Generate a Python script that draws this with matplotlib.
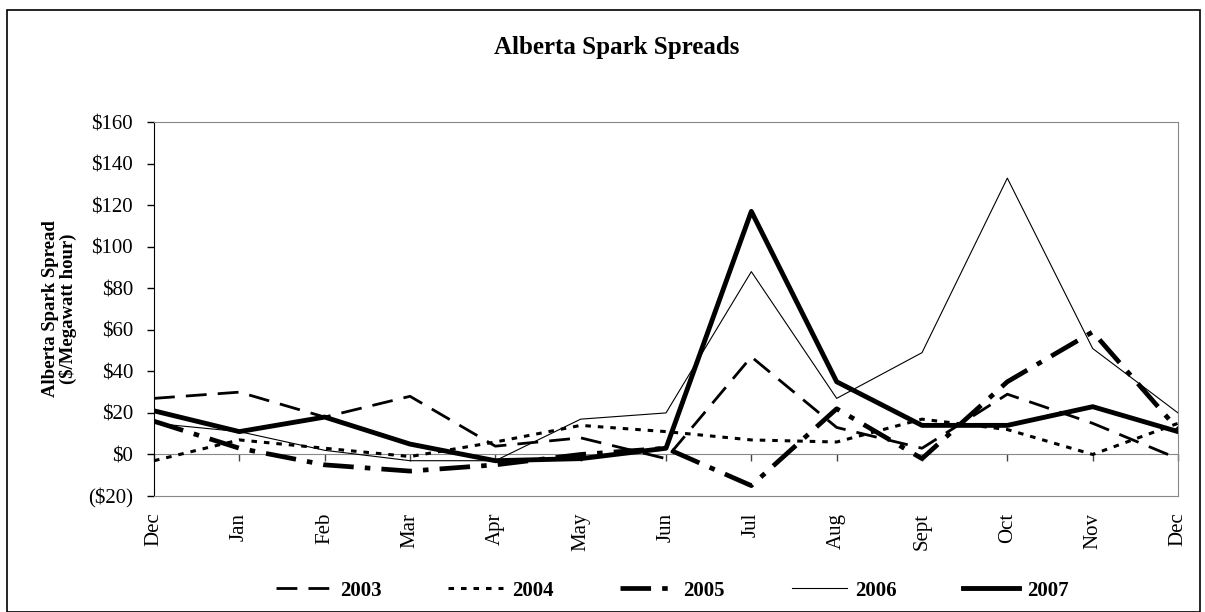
import numpy as np
import matplotlib
matplotlib.use('Agg')
import matplotlib.pyplot as plt
from matplotlib.patches import Rectangle

plt.rcParams['font.family'] = ['Liberation Serif', 'DejaVu Serif']
plt.rcParams['lines.scale_dashes'] = False

months = ['Dec', 'Jan', 'Feb', 'Mar', 'Apr', 'May', 'Jun',
          'Jul', 'Aug', 'Sept', 'Oct', 'Nov', 'Dec']

s2003 = [27, 30, 18, 28, 4, 8, -2, 47, 13, 3, 29, 15, -2]
s2004 = [-3, 7, 3, -1, 6, 14, 11, 7, 6, 17, 12, 0, 15]
s2005 = [16, 3, -5, -8, -5, 0, 3, -15, 22, -2, 35, 59, 12]
s2006 = [15, 11, 2, -3, -3, 17, 20, 88, 27, 49, 133, 51, 20]
s2007 = [21, 11, 18, 5, -3, -2, 3, 117, 35, 14, 14, 23, 11]

fig = plt.figure(figsize=(12.05, 6.12), dpi=100)
ax = fig.add_axes([0.1278, 0.1895, 0.8498, 0.6111])

x = np.arange(len(months))
ax.plot(x, s2003, color='black', lw=2.0, dashes=(15, 8), label='2003')
ax.plot(x, s2004, color='black', lw=2.2, dashes=(4, 5), label='2004')
ax.plot(x, s2005, color='black', lw=3.4, dashes=(22, 8, 4, 8), label='2005')
ax.plot(x, s2006, color='black', lw=0.8, label='2006')
ax.plot(x, s2007, color='black', lw=3.5, label='2007')

ax.set_xlim(0, 12)
ax.set_ylim(-20, 160)
ax.set_yticks(np.arange(-20, 161, 20))
ax.yaxis.set_major_formatter(lambda v, p: f'(${-v:.0f})' if v < 0 else f'${v:.0f}')
ax.tick_params(axis='y', direction='out', length=5, width=1, labelsize=15, pad=10)

ax.set_xticks(x)
ax.set_xticklabels(months, rotation=90, fontsize=15, va='top')
ax.tick_params(axis='x', length=0, pad=12)

for side in ['top', 'right', 'bottom']:
    ax.spines[side].set_color('#888888')
ax.spines['left'].set_color('black')

# zero line with its own tick marks
zero = ax.secondary_xaxis(20 / 180)
zero.set_xticks(x)
zero.set_xticklabels([])
zero.tick_params(direction='out', length=5, width=1, color='#444444')
zero.spines['bottom'].set_color('#888888')

ax.set_ylabel('Alberta Spark Spread\n($/Megawatt hour)', fontsize=13.5,
              fontweight='bold', linespacing=1.0)
ax.yaxis.set_label_coords(-0.075, 0.5)

fig.suptitle('Alberta Spark Spreads', x=0.512, y=0.923, va='center',
             fontsize=18, fontweight='bold')

fig.legend(loc='center', bbox_to_anchor=(0.558, 0.035), ncol=5, frameon=False,
           handlelength=2.65, columnspacing=3.2, handletextpad=0.4,
           prop={'weight': 'bold', 'size': 15})

fig.add_artist(Rectangle((0.006, 0.0), 0.99, 0.984, transform=fig.transFigure,
                         fill=False, edgecolor='black', lw=1.2))

fig.savefig('out.png', dpi=100)
plt.close(fig)
